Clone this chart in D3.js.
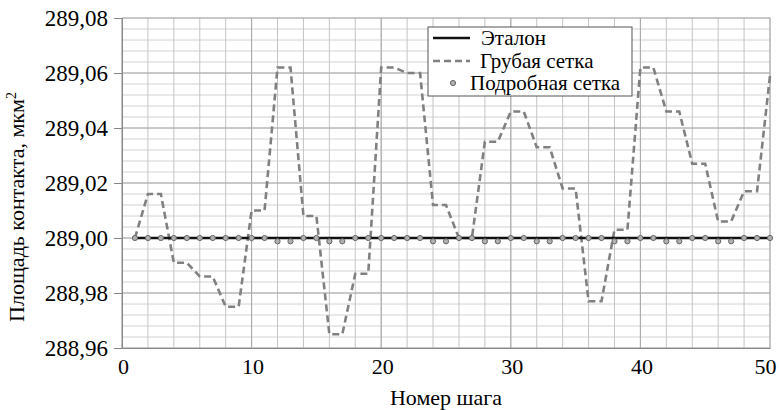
<!DOCTYPE html>
<meta charset="utf-8">
<script src="https://d3js.org/d3.v7.min.js"></script>
<style>
body { margin: 0; background: #fff; }
svg text { font-family: "Liberation Serif", "Times New Roman", Times, "DejaVu Serif", serif; fill: #000; }
</style>
<div id="chart"></div>
<script>

// номер шага
const steps = [1,2,3,4,5,6,7,8,9,10,11,12,13,14,15,16,17,18,19,20,21,22,23,24,25,
  26,27,28,29,30,31,32,33,34,35,36,37,38,39,40,41,42,43,44,45,46,47,48,49,50];

// Эталон
const etalon = [289,289,289,289,289,289,289,289,289,289,289,289,289,289,289,289,289,289,289,289,289,289,289,289,289,
  289,289,289,289,289,289,289,289,289,289,289,289,289,289,289,289,289,289,289,289,289,289,289,289,289];

// Грубая сетка
const coarse = [289.000, 289.016, 289.016, 288.991, 288.991, 288.986, 288.986, 288.975, 288.975, 289.010,
  289.010, 289.062, 289.062, 289.008, 289.008, 288.965, 288.965, 288.987, 288.987, 289.062,
  289.062, 289.060, 289.060, 289.012, 289.012, 289.000, 289.000, 289.035, 289.035, 289.046,
  289.046, 289.033, 289.033, 289.018, 289.018, 288.977, 288.977, 289.003, 289.003, 289.062,
  289.062, 289.046, 289.046, 289.027, 289.027, 289.006, 289.006, 289.017, 289.017, 289.059];

// Подробная сетка
const fine = [289.000, 289.000, 289.000, 289.000, 289.000, 289.000, 289.000, 289.000, 289.000, 289.000,
  289.000, 288.9988, 288.9988, 289.000, 289.000, 288.9988, 288.9988, 289.000, 289.000, 289.000,
  289.000, 289.000, 289.000, 288.9988, 288.9988, 289.000, 289.000, 288.9988, 288.9988, 289.000,
  289.000, 288.9988, 288.9988, 289.000, 289.000, 289.000, 289.000, 288.9988, 288.9988, 289.000,
  289.000, 288.9988, 288.9988, 289.000, 289.000, 288.9988, 288.9988, 289.000, 289.000, 289.000];

const xTicks = [0, 10, 20, 30, 40, 50];
const yTicks = [288.96, 288.98, 289.00, 289.02, 289.04, 289.06, 289.08];
const seriesNames = ["Эталон", "Грубая сетка", "Подробная сетка"];

const margin = {top: 18, right: 9, bottom: 62, left: 122},
    width = 779 - margin.left - margin.right,
    height = 410 - margin.top - margin.bottom;

const svg = d3.select("#chart")
  .append("svg")
    .attr("width", width + margin.left + margin.right)
    .attr("height", height + margin.top + margin.bottom)
  .append("g")
    .attr("transform", `translate(${margin.left},${margin.top})`);

const x = d3.scaleLinear().domain([0, 50]).range([0, width]);
const y = d3.scaleLinear().domain([288.96, 289.08]).range([height, 0]);

// minor grid
const vGrid = d3.range(0, 51, 2);
const hGrid = d3.range(0, 31).map(i => 288.96 + i * 0.004);

svg.append("g")
  .selectAll("line")
  .data(hGrid)
  .join("line")
    .attr("x1", 0).attr("x2", width)
    .attr("y1", d => y(d)).attr("y2", d => y(d))
    .attr("stroke", "#d2d2d2").attr("stroke-width", 1);

svg.append("g")
  .selectAll("line")
  .data(vGrid)
  .join("line")
    .attr("x1", d => x(d)).attr("x2", d => x(d))
    .attr("y1", 0).attr("y2", height)
    .attr("stroke", "#c4c4c4").attr("stroke-width", 1);

// major grid
svg.append("g")
  .selectAll("line")
  .data(yTicks)
  .join("line")
    .attr("x1", 0).attr("x2", width)
    .attr("y1", d => y(d)).attr("y2", d => y(d))
    .attr("stroke", "#a8a8a8").attr("stroke-width", 1);

svg.append("g")
  .selectAll("line")
  .data(xTicks)
  .join("line")
    .attr("x1", d => x(d)).attr("x2", d => x(d))
    .attr("y1", 0).attr("y2", height)
    .attr("stroke", "#a8a8a8").attr("stroke-width", 1);

// axes
const fmt = d => d3.format(".2f")(d).replace(".", ",");

const yAxis = svg.append("g")
  .call(d3.axisLeft(y).tickValues(yTicks).tickFormat(fmt).tickSize(8).tickPadding(6));
yAxis.attr("font-family", null).attr("font-size", null);
yAxis.select(".domain").attr("stroke", "#888");
yAxis.selectAll(".tick line").attr("stroke", "#888");
yAxis.selectAll(".tick text").style("font-size", "23px");

const xAxis = svg.append("g")
  .attr("transform", `translate(0,${height})`)
  .call(d3.axisBottom(x).tickValues(xTicks).tickSize(0).tickPadding(10));
xAxis.attr("font-family", null).attr("font-size", null);
xAxis.select(".domain").attr("stroke", "#888");
xAxis.selectAll(".tick text")
  .style("font-size", "22px")
  .attr("dx", d => d === 50 ? -5 : 1);

// axis titles
svg.append("text")
  .attr("x", width / 2)
  .attr("y", height + 57)
  .attr("text-anchor", "middle")
  .style("font-size", "22px")
  .text("Номер шага");

const yTitle = svg.append("text")
  .attr("transform", `translate(${-margin.left + 24},${height / 2 + 24}) rotate(-90)`)
  .attr("text-anchor", "middle")
  .style("font-size", "22px");
yTitle.append("tspan").text("Площадь контакта, мкм");
yTitle.append("tspan").attr("dy", -8).style("font-size", "14px").text("2");

// series
const line = d3.line().x((d, i) => x(steps[i])).y(d => y(d));

svg.append("path")
  .datum(coarse)
  .attr("d", line)
  .attr("fill", "none")
  .attr("stroke", "#808080")
  .attr("stroke-width", 2.6)
  .attr("stroke-dasharray", "7,4");

svg.append("path")
  .datum(etalon)
  .attr("d", line)
  .attr("fill", "none")
  .attr("stroke", "#111")
  .attr("stroke-width", 2.6);

svg.append("g")
  .selectAll("circle")
  .data(fine)
  .join("circle")
    .attr("cx", (d, i) => x(steps[i]))
    .attr("cy", d => y(d))
    .attr("r", 2.6)
    .attr("fill", "#b0b0b0")
    .attr("stroke", "#666")
    .attr("stroke-width", 1);

// legend
const lg = svg.append("g").attr("transform", `translate(${428 - margin.left},${27 - margin.top})`);
lg.append("rect")
  .attr("width", 204).attr("height", 69)
  .attr("fill", "#fff").attr("stroke", "#555").attr("stroke-width", 1);

lg.append("line").attr("x1", 5).attr("x2", 42).attr("y1", 11).attr("y2", 11)
  .attr("stroke", "#111").attr("stroke-width", 2.6);
lg.append("line").attr("x1", 5).attr("x2", 42).attr("y1", 34).attr("y2", 34)
  .attr("stroke", "#808080").attr("stroke-width", 2.6).attr("stroke-dasharray", "7,4");
lg.append("circle").attr("cx", 25).attr("cy", 56).attr("r", 2.6)
  .attr("fill", "#b0b0b0").attr("stroke", "#666").attr("stroke-width", 1);

const lx = [53, 52, 42], ly = [11, 34, 56];
seriesNames.forEach((s, i) => {
  lg.append("text")
    .attr("x", lx[i]).attr("y", ly[i])
    .attr("dy", "0.35em")
    .style("font-size", "21px")
    .text(s);
});

</script>
